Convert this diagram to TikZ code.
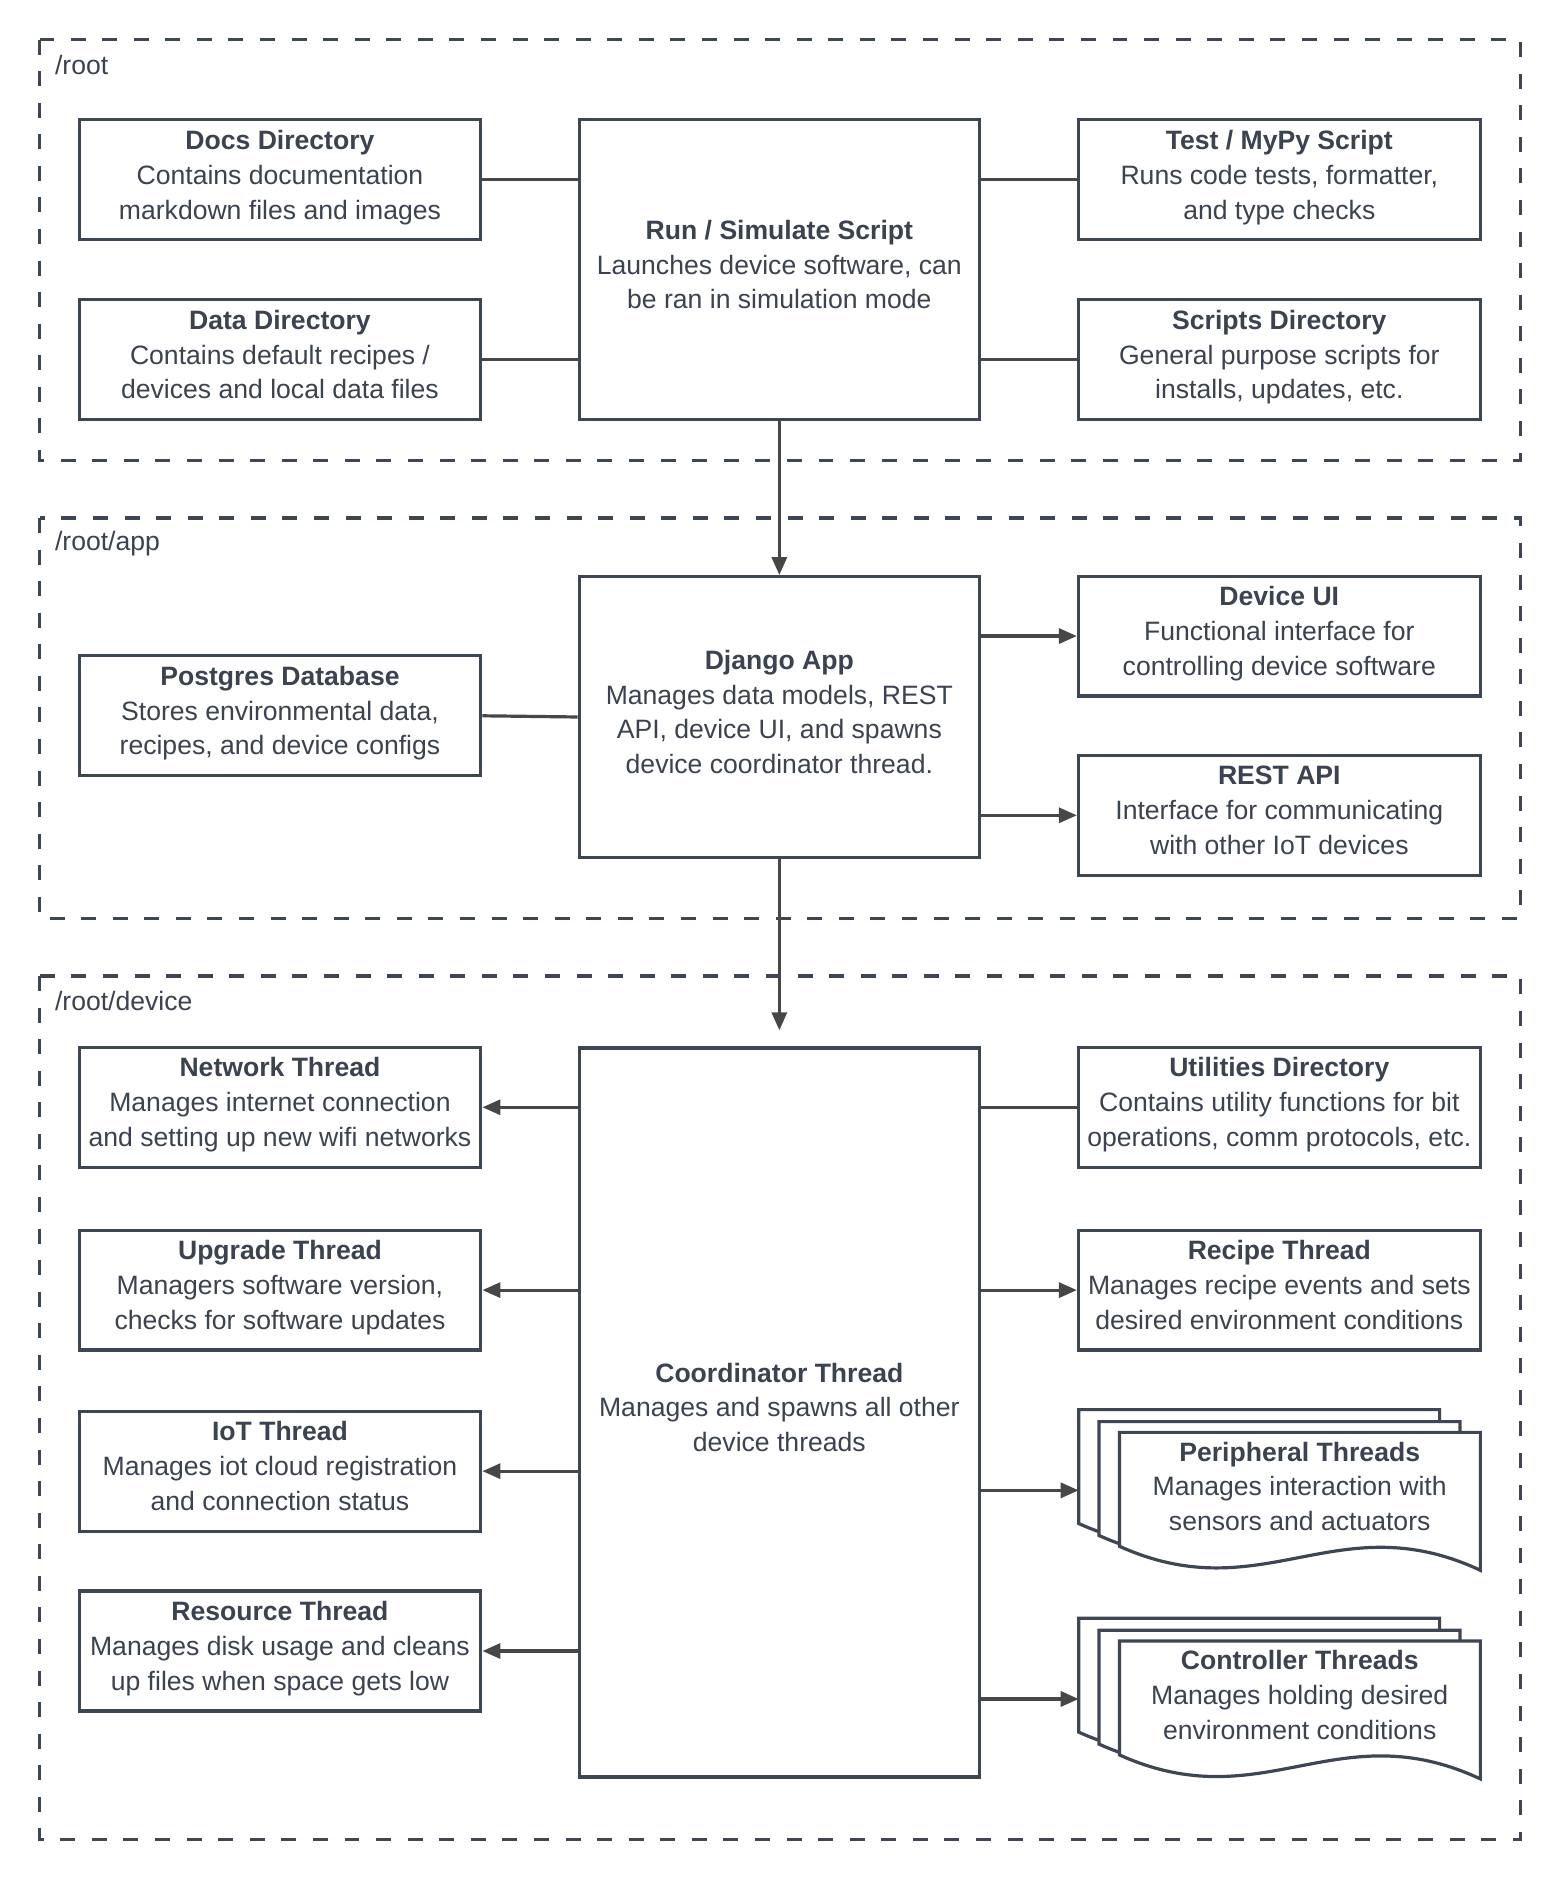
\documentclass[tikz,border=0pt]{standalone}
\usepackage{fontspec}
\setmainfont{Liberation Sans}
\usetikzlibrary{arrows.meta}
\definecolor{edgegray}{HTML}{3E4653}
\definecolor{linegray}{HTML}{474747}
\definecolor{textgray}{HTML}{3B4250}
\begin{document}
\begin{tikzpicture} [x=0.6pt, y=-0.6pt,
    every node/.style={font=\fontsize{13.3}{17.4}\selectfont, text=textgray},
    block/.style={draw=edgegray, line width=1.6pt, fill=white, align=center, inner sep=0pt,
                  minimum width=201pt, minimum height=60pt,
                  execute at begin node=\strut, execute at end node=\strut},
    frame/.style={draw=edgegray, line width=1.6pt, dash pattern=on 7.5pt off 8.3pt},
    sheet/.style={draw=edgegray, line width=1.6pt, fill=white, line join=miter},
    link/.style={draw=linegray, line width=1.6pt},
    arrow/.style={link, -{Triangle[length=9pt,width=7.5pt]}}]
    \fill [white] (0,0) rectangle (1301,1568);
    \useasboundingbox (0,0) rectangle (1301,1568);
    \draw [frame] (33,33) rectangle (1268,384);
    \draw [frame] (33,432) rectangle (1268,766);
    \draw [frame] (33,814) rectangle (1268,1534);
    \path node [anchor=west] at (40,54) {/root}
          node [anchor=west] at (40,453) {/root/app}
          node [anchor=west] at (40,835) {/root/device};
    \path node (docs) at (233.5,150) [block] {\textbf{Docs Directory}\\Contains documentation\\markdown files and images}
          node (data) at (233.5,300) [block] {\textbf{Data Directory}\\Contains default recipes /\\devices and local data files}
          node (run) at (650,225) [block, minimum width=200.4pt, minimum height=150pt] {\textbf{Run / Simulate Script}\\Launches device software, can\\be ran in simulation mode}
          node (test) at (1067,150) [block] {\textbf{Test / MyPy Script}\\Runs code tests, formatter,\\and type checks}
          node (scripts) at (1067,300) [block] {\textbf{Scripts Directory}\\General purpose scripts for\\installs, updates, etc.};
    \path node (postgres) at (233.5,597) [block] {\textbf{Postgres Database}\\Stores environmental data,\\recipes, and device configs}
          node (django) at (650,598) [block, minimum width=200.4pt, minimum height=140.4pt] {\textbf{Django App}\\Manages data models, REST\\API, device UI, and spawns\\device coordinator thread.}
          node (deviceui) at (1067,530.5) [block] {\textbf{Device UI}\\Functional interface for\\controlling device software}
          node (restapi) at (1067,680) [block] {\textbf{REST API}\\Interface for communicating\\with other IoT devices};
    \path node (coord) at (650,1178) [block, minimum width=200.4pt, minimum height=364.8pt] {\textbf{Coordinator Thread}\\Manages and spawns all other\\device threads}
          node (network) at (233.5,923.5) [block] {\textbf{Network Thread}\\Manages internet connection\\and setting up new wifi networks}
          node (upgrade) at (233.5,1076) [block] {\textbf{Upgrade Thread}\\Managers software version,\\checks for software updates}
          node (iot) at (233.5,1227) [block] {\textbf{IoT Thread}\\Manages iot cloud registration\\and connection status}
          node (resource) at (233.5,1377) [block] {\textbf{Resource Thread}\\Manages disk usage and cleans\\up files when space gets low}
          node (utils) at (1067,923.5) [block] {\textbf{Utilities Directory}\\Contains utility functions for bit\\operations, comm protocols, etc.}
          node (recipe) at (1067,1076) [block] {\textbf{Recipe Thread}\\Manages recipe events and sets\\desired environment conditions}
          node (periph) at (1067.5,1243) [minimum width=201pt, minimum height=80.4pt, inner sep=0pt] {}
          node (ctrl) at (1067.5,1417) [minimum width=201pt, minimum height=80.4pt, inner sep=0pt] {};
    \foreach \sheetx/\sheety in {0/0, 17/10, 34/19} {
        \draw [sheet, shift={(periph.north west)}, shift={(\sheetx,\sheety)}]
            (0,0) -- (301,0) -- (301,115) .. controls (181,59) and (120,149) .. (0,95) -- cycle;
        \draw [sheet, shift={(ctrl.north west)}, shift={(\sheetx,\sheety)}]
            (0,0) -- (301,0) -- (301,115) .. controls (181,59) and (120,149) .. (0,95) -- cycle;
    }
    \path node (periphtext) at (1084,1244) [align=center, execute at begin node=\strut, execute at end node=\strut] {\textbf{Peripheral Threads}\\Manages interaction with\\sensors and actuators}
          node (ctrltext) at (1084,1418) [align=center, execute at begin node=\strut, execute at end node=\strut] {\textbf{Controller Threads}\\Manages holding desired\\environment conditions};
    \draw [link] (docs.east) -- (docs.east -| run.west);
    \draw [link] (data.east) -- (data.east -| run.west);
    \draw [link] (run.east |- test.west) -- (test.west);
    \draw [link] (run.east |- scripts.west) -- (scripts.west);
    \draw [arrow] (run) -- (django);
    \draw [link] (postgres.east) -- (django.west);
    \draw [arrow] (django.east |- deviceui.west) -- (deviceui.west);
    \draw [arrow] (django.east |- restapi.west) -- (restapi.west);
    \draw [arrow, shorten >=8pt] (django) -- (coord);
    \draw [arrow] (coord.west |- network.east) -- (network.east);
    \draw [arrow] (coord.west |- upgrade.east) -- (upgrade.east);
    \draw [arrow] (coord.west |- iot.east) -- (iot.east);
    \draw [arrow] (coord.west |- resource.east) -- (resource.east);
    \draw [link] (coord.east |- utils.west) -- (utils.west);
    \draw [arrow] (coord.east |- recipe.west) -- (recipe.west);
    \draw [arrow] (coord.east |- periph.west) -- (periph.west);
    \draw [arrow] (coord.east |- ctrl.west) -- (ctrl.west);
\end{tikzpicture}
\end{document}
